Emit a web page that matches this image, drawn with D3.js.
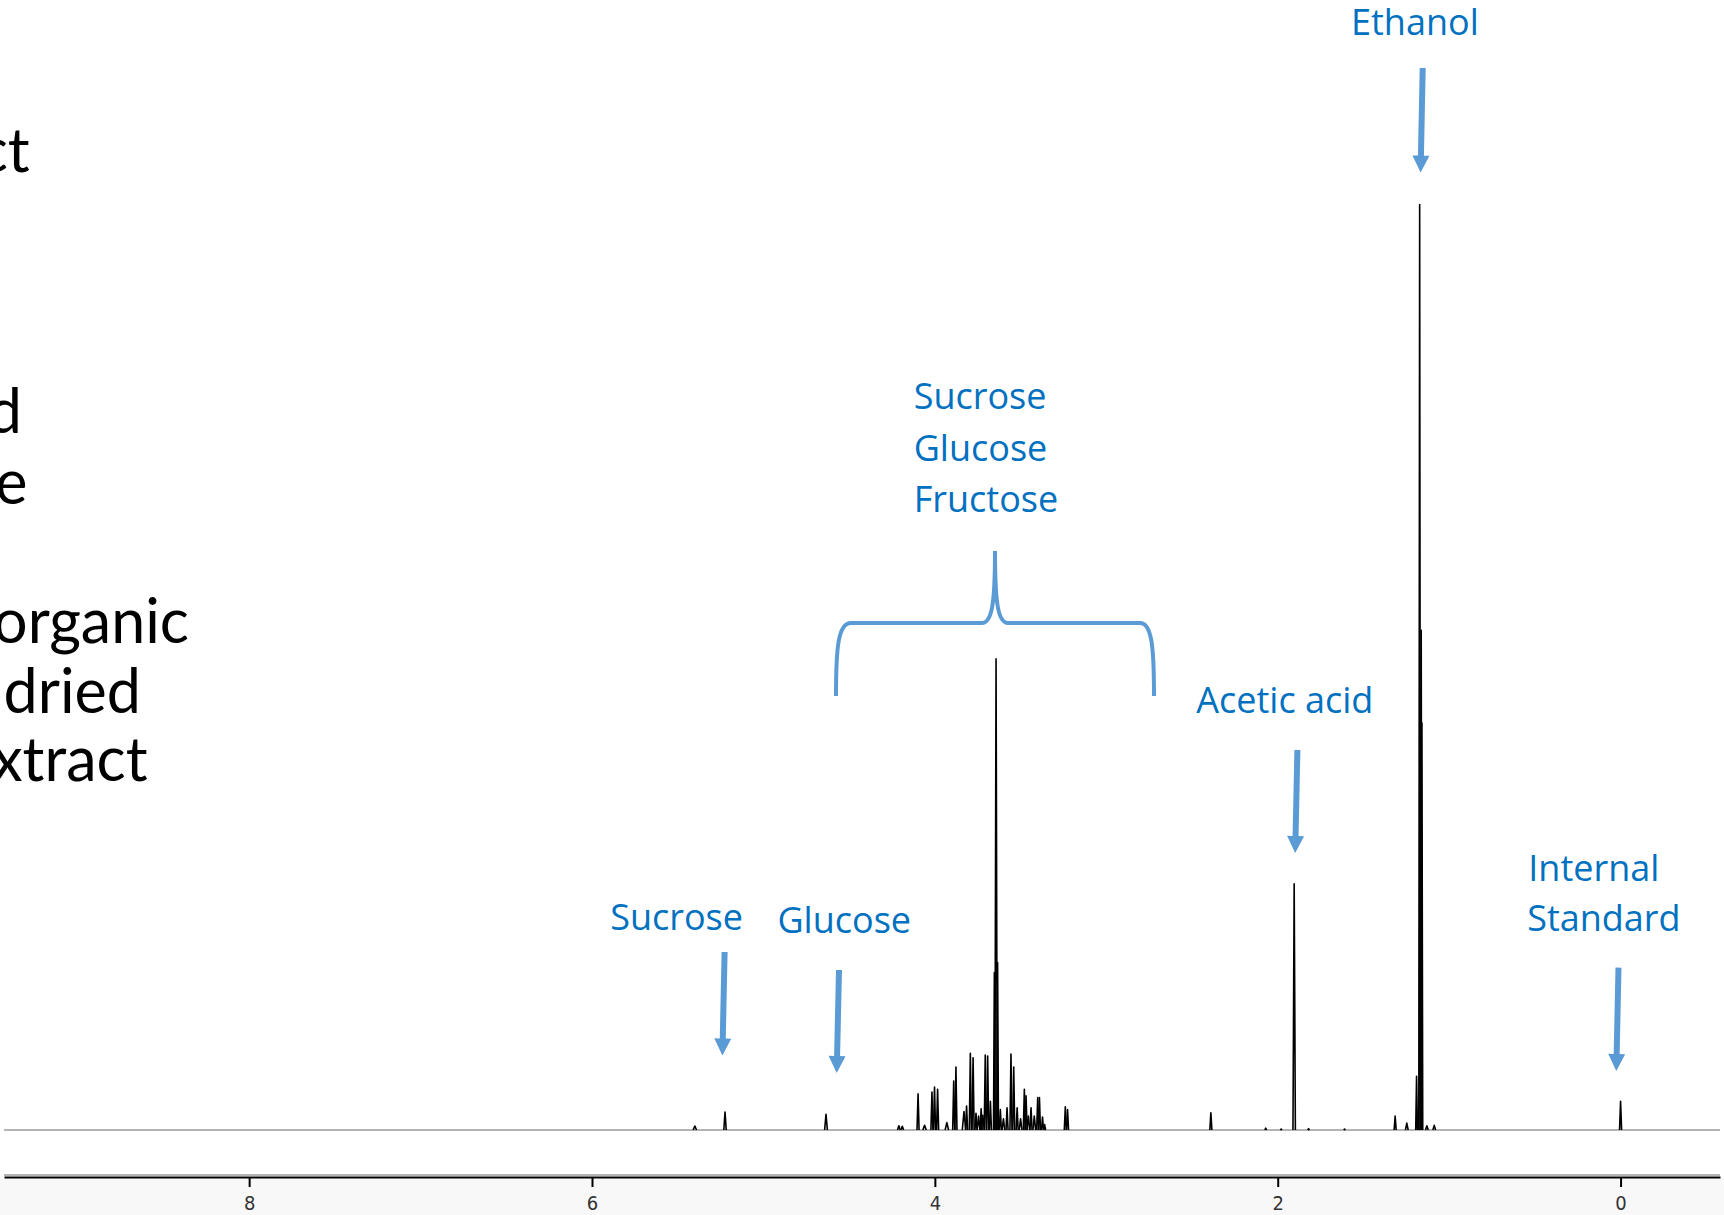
<!DOCTYPE html>
<html>
<head>
<meta charset="utf-8">
<script src="https://cdn.jsdelivr.net/npm/d3@7"></script>
<style>
  html, body { margin: 0; padding: 0; background: #ffffff; }
  svg { display: block; }
</style>
</head>
<body>
<svg id="chart" width="1724" height="1215"></svg>
<script>
// ---------- DATA ----------
// chemical shift axis
const axisDomain = [9.43, -0.58];
const tickValues = [8, 6, 4, 2, 0];
const tickLabels = ["8", "6", "4", "2", "0"];

// peak list: position (ppm), relative intensity (ethanol CH3 = 100), half-width (ppm)
const peakPpm = [
  0.000, 1.087, 1.130, 1.159, 1.163, 1.172, 1.190, 1.247, 1.315, 1.610, 1.820,
  1.904, 1.980, 2.070, 2.390,
  3.226, 3.239, 3.360, 3.372, 3.390, 3.400, 3.420, 3.439, 3.455, 3.468, 3.478,
  3.500, 3.520, 3.540, 3.556, 3.579, 3.600, 3.618, 3.634, 3.643, 3.653, 3.676,
  3.692, 3.706, 3.720, 3.730, 3.745, 3.760, 3.777, 3.793, 3.815, 3.830, 3.877,
  3.890, 3.930, 3.984, 4.002, 4.017, 4.060, 4.098, 4.190, 4.210,
  4.635, 5.224, 5.400
];
const peakHeight = [
  3.1, 0.5, 0.45, 44, 54, 100, 5.8, 0.75, 1.5, 0.1, 0.15,
  26.6, 0.1, 0.2, 1.85,
  2.2, 2.5, 0.6, 1.4, 3.5, 3.5, 1.5, 2.4, 1.5, 3.7, 4.4,
  1.2, 2.4, 6.8, 8.2, 2.4, 1.2, 2.2, 18.1, 50.9, 17.0, 3.1,
  8.0, 8.1, 1.6, 2.3, 1.5, 1.8, 7.8, 8.3, 2.6, 2.0, 6.8,
  5.3, 0.8, 4.4, 4.65, 4.1, 0.5, 3.9, 0.4, 0.45,
  1.7, 1.95, 0.43
];
const peakWidth = [
  0.006, 0.008, 0.008, 0.005, 0.005, 0.005, 0.005, 0.008, 0.006, 0.005, 0.005,
  0.007, 0.005, 0.005, 0.006,
  0.006, 0.006, 0.006, 0.006, 0.006, 0.006, 0.008, 0.006, 0.008, 0.006, 0.006,
  0.008, 0.006, 0.006, 0.006, 0.006, 0.008, 0.006, 0.005, 0.007, 0.005, 0.006,
  0.006, 0.006, 0.008, 0.006, 0.008, 0.006, 0.006, 0.006, 0.006, 0.010, 0.006,
  0.006, 0.010, 0.006, 0.006, 0.006, 0.010, 0.006, 0.008, 0.008,
  0.008, 0.007, 0.010
];

// annotation texts
const leftTexts = ["ct", "d", "e", "organic", " dried", "xtract"];
const labelEthanol = "Ethanol";
const labelSugars = ["Sucrose", "Glucose", "Fructose"];
const labelAcetic = "Acetic acid";
const labelStandard = ["Internal", "Standard"];
const labelSucrose = "Sucrose";
const labelGlucose = "Glucose";

// ---------- DRAWING ----------
const svg = d3.select("#chart");
const W = 1724, H = 1215;
const x = d3.scaleLinear().domain(axisDomain).range([4, 1720]);
const y = d3.scaleLinear().domain([0, 100]).range([1130, 204.5]);
const blue = "#0070C0";
const arrowBlue = "#5B9BD5";
const labelFont = "'Open Sans', Lato, sans-serif";
const sideFont = "Lato, 'Open Sans', sans-serif";

svg.append("rect").attr("width", W).attr("height", H).attr("fill", "#ffffff");
// light strip under the axis
svg.append("rect").attr("x", 0).attr("y", 1178).attr("width", W).attr("height", H - 1178).attr("fill", "#f8f8f8");

// zero line of the spectrum
svg.append("line")
  .attr("x1", x(axisDomain[0])).attr("x2", x(axisDomain[1]))
  .attr("y1", y(0)).attr("y2", y(0))
  .attr("stroke", "#b4b4b4").attr("stroke-width", 2);

// peaks
const peaks = peakPpm.map((p, i) => ({ p, h: peakHeight[i], w: peakWidth[i] }));
const line = d3.line().x(d => x(d[0])).y(d => y(d[1]));
svg.append("g").selectAll("path").data(peaks).join("path")
  .attr("d", d => line([[d.p + d.w, 0], [d.p, d.h], [d.p - d.w, 0]]))
  .attr("fill", "none")
  .attr("stroke", "#000")
  .attr("stroke-width", 1.6)
  .attr("stroke-linejoin", "round");

// axis
const axisY = 1177;
svg.append("line").attr("x1", 4).attr("x2", 1720).attr("y1", axisY - 2).attr("y2", axisY - 2)
  .attr("stroke", "#9a9a9a").attr("stroke-width", 1.5);
const axis = d3.axisBottom(x).tickValues(tickValues).tickFormat((d, i) => tickLabels[i])
  .tickSize(10).tickSizeOuter(0).tickPadding(9);
const gAxis = svg.append("g").attr("transform", `translate(0,${axisY})`).call(axis);
gAxis.select(".domain").attr("stroke", "#000").attr("stroke-width", 2);
gAxis.selectAll(".tick line").attr("stroke", "#000").attr("stroke-width", 2);
gAxis.selectAll(".tick text")
  .attr("fill", "#333")
  .style("font-family", "'Liberation Sans Narrow', 'DejaVu Sans Condensed', sans-serif")
  .style("font-size", "20px");

// left black text (cut by the left edge, as in the reference)
const leftPos = [[29.7, 171.5], [22, 433], [27.5, 503.6], [189, 643], [141, 712.5], [147.5, 780.6]];
svg.append("g").selectAll("text").data(leftTexts).join("text")
  .attr("x", (d, i) => leftPos[i][0]).attr("y", (d, i) => leftPos[i][1])
  .attr("text-anchor", "end")
  .style("font-family", sideFont).style("font-size", "61px").attr("fill", "#000")
  .style("white-space", "pre")
  .text(d => d);

function label(txt, lx, ly) {
  svg.append("text").attr("x", lx).attr("y", ly)
    .style("font-family", labelFont).style("font-size", "36px").attr("fill", blue)
    .text(txt);
}
label(labelEthanol, 1351, 35);
labelSugars.forEach((t, i) => label(t, 913.7, 409 + i * 51.5));
label(labelAcetic, 1196.3, 713);
label(labelStandard[0], 1528.3, 881);
label(labelStandard[1], 1527.2, 931);
label(labelSucrose, 610.2, 930);
label(labelGlucose, 777.4, 933);

// arrows
function arrow(x1, y1, x2, y2) {
  const dx = x2 - x1, dy = y2 - y1, len = Math.hypot(dx, dy);
  const ux = dx / len, uy = dy / len, nx = -uy, ny = ux;
  const headL = 17, headW = 8.5, shaftW = 3;
  const bx = x2 - ux * headL, by = y2 - uy * headL;
  const pts = [
    [x1 + nx * shaftW, y1 + ny * shaftW],
    [bx + nx * shaftW, by + ny * shaftW],
    [bx + nx * headW, by + ny * headW],
    [x2, y2],
    [bx - nx * headW, by - ny * headW],
    [bx - nx * shaftW, by - ny * shaftW],
    [x1 - nx * shaftW, y1 - ny * shaftW]
  ];
  svg.append("path").attr("d", "M" + pts.map(p => p.join(",")).join("L") + "Z")
    .attr("fill", arrowBlue);
}
arrow(1422.7, 68, 1420.6, 172.6);   // ethanol
arrow(1297.4, 750, 1295.2, 853);    // acetic acid
arrow(1618.5, 967.6, 1616.3, 1071); // internal standard
arrow(724.6, 952, 722.4, 1055.5);   // sucrose
arrow(839, 970, 836.7, 1073);       // glucose

// curly bracket over the sugar region
svg.append("path")
  .attr("d", "M836,696 C836,648 838,623 851,623 L982,623 C992,623 995,603 995,551 C995,603 998,623 1008,623 L1140,623 C1152,623 1154,648 1154,696")
  .attr("fill", "none").attr("stroke", arrowBlue).attr("stroke-width", 4);
</script>
</body>
</html>
